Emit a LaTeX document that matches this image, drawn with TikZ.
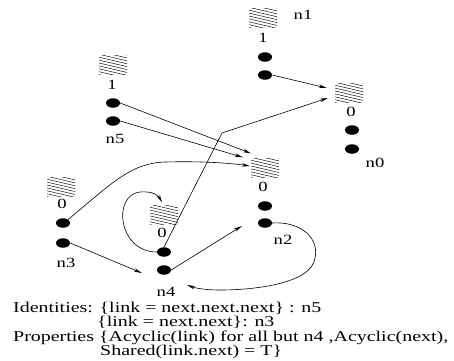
\documentclass[tikz,border=0pt]{standalone}
\usepackage{fontspec}
\setmainfont[FakeStretch=1.33]{Liberation Serif}
\usetikzlibrary{arrows.meta,shapes.geometric,calc}
\tikzset{
  dotnode/.style={ellipse, fill=black, minimum width=14pt, minimum height=9.5pt, inner sep=0pt},
  lbl/.style={font=\fontsize{14}{14}\selectfont, inner sep=0pt},
  arr/.style={-{Stealth[length=8pt,width=3.5pt]}, line width=0.6pt},
  txt/.style={font=\fontsize{15}{15}\selectfont, inner sep=0pt, anchor=base west},
  hatchbox/.style={minimum width=28pt, minimum height=19pt, inner sep=0pt,
    path picture={
      \foreach \k in {0,...,9}{
        \draw[line width=0.45pt] ([yshift={7pt-\k*2.9pt}]path picture bounding box.north west) -- ++(30,7);
      }}}
}
\begin{document}
\begin{tikzpicture}[x=1pt,y=-1pt]
\useasboundingbox[fill=white] (0,0) rectangle (454,360);

% n1
\node[hatchbox] (n1h) at (263,18) {};
\node[lbl] (n1d) at (263,38) {1};
\node[dotnode] (n1a) at (265,57) {};
\node[dotnode] (n1b) at (265,75) {};
\node[lbl] (n1l) at (303,15) {n1};

% n0
\node[hatchbox] (n0h) at (349,93) {};
\node[lbl] (n0d) at (351,112) {0};
\node[dotnode] (n0a) at (352,130) {};
\node[dotnode] (n0b) at (352,149) {};
\node[lbl] (n0l) at (375,163) {n0};

% n5
\node[hatchbox] (n5h) at (113,65) {};
\node[lbl] (n5d) at (112,85) {1};
\node[dotnode] (n5a) at (113,103) {};
\node[dotnode] (n5b) at (113,121) {};
\node[lbl] (n5l) at (115,139) {n5};

% n3
\node[hatchbox] (n3h) at (61,187) {};
\node[lbl] (n3d) at (62,204) {0};
\node[dotnode] (n3a) at (63,223) {};
\node[dotnode] (n3b) at (63,243) {};
\node[lbl] (n3l) at (66,263) {n3};

% n4
\node[hatchbox] (n4h) at (164,215) {};
\node[lbl] (n4d) at (162,233) {0};
\node[dotnode] (n4a) at (164,252) {};
\node[dotnode] (n4b) at (164,270) {};
\node[lbl] (n4l) at (166,292) {n4};

% n2
\node[hatchbox] (n2h) at (265,168) {};
\node[lbl] (n2d) at (263,187) {0};
\node[dotnode] (n2a) at (265,206) {};
\node[dotnode] (n2b) at (265,223) {};
\node[lbl] (n2l) at (283,240) {n2};

\coordinate (bend) at (222,133);

% connectors
\draw[arr] (n1b.east) -- ([xshift=-8pt,yshift=5pt]n0h.west);
\draw[arr] (n4a.north) -- (bend) -- ([xshift=-7pt,yshift=-5pt]n0h.west);
\draw[arr] (n5a.east) -- ([yshift=5pt]n2h.north west);
\draw[arr] (n5b.east) -- ([xshift=-8pt,yshift=1pt]n2h.north west);
\draw[arr] (n3a.north east) .. controls (110,185) and (130,163) .. (165,162)
   .. controls (200,161) and (230,163) .. ([xshift=-1pt,yshift=2pt]n2h.west);
\draw[arr] (n3b.east) -- ([xshift=-15pt,yshift=-3pt]n4b.west);
\draw[arr] (n4a.west) .. controls (118,252) and (112,195) .. (140,192)
   .. controls (152,191) and (158,195) .. ([xshift=-2pt,yshift=3pt]n4h.north);
\draw[arr] (n4b.east) -- ([xshift=-16pt,yshift=-3pt]n2b.west);
\draw[arr] (n2b.east) .. controls (300,221) and (322,238) .. (314,262)
   .. controls (305,285) and (250,290) .. (220,290)
   .. controls (205,290) and (195,288) .. ([xshift=16pt,yshift=-15pt]n4b.east);

% text
\node[txt] (t1) at (13,312) {Identities: \{link = next.next.next\} : n5};
\node[txt] (t2) at (97,326.5) {\{link = next.next\}: n3};
\node[txt] (t3) at (13,341) {Properties \{Acyclic(link) for all but n4 ,Acyclic(next),};
\node[txt] (t4) at (100,355.5) {Shared(link.next) = T\}};
\end{tikzpicture}
\end{document}
